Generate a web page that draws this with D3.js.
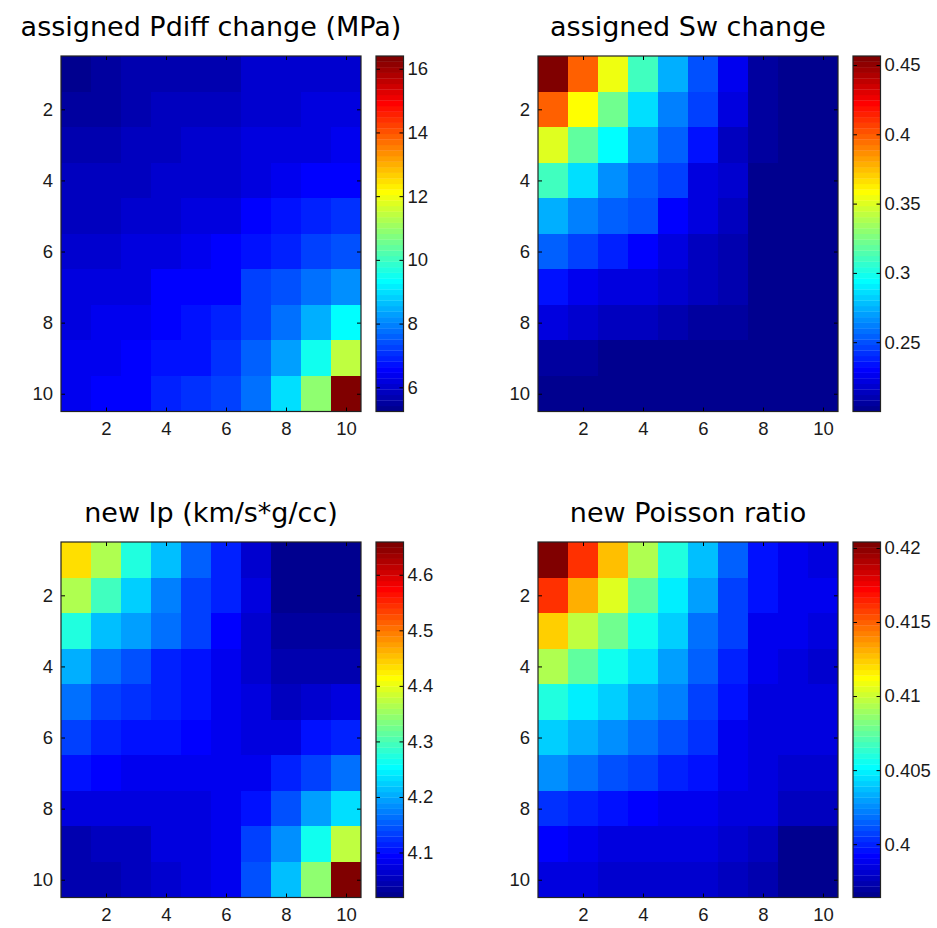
<!DOCTYPE html>
<html>
<head>
<meta charset="utf-8">
<script src="https://cdn.jsdelivr.net/npm/d3@7"></script>
<style>
  body { margin: 0; background: #fff; }
  svg { display: block; font-family: "DejaVu Sans", sans-serif; }
</style>
</head>
<body>
<div id="chart"></div>
<script>
// grid values, row 1 at top, column 1 at left
const pdiffChange = [
  [5.24, 5.42, 5.59, 5.59, 5.76, 5.76, 5.98, 6.03, 6.03, 6.09],
  [5.48, 5.48, 5.65, 5.81, 5.87, 5.92, 5.98, 6.09, 6.20, 6.25],
  [5.70, 5.70, 5.81, 5.87, 5.98, 6.03, 6.14, 6.20, 6.25, 6.36],
  [5.81, 5.81, 5.87, 5.98, 6.03, 6.09, 6.25, 6.36, 6.47, 6.58],
  [5.87, 5.92, 6.09, 6.09, 6.20, 6.25, 6.47, 6.64, 6.97, 7.08],
  [6.03, 6.09, 6.14, 6.20, 6.36, 6.47, 6.64, 6.85, 7.30, 7.40],
  [6.14, 6.20, 6.25, 6.47, 6.58, 6.58, 7.30, 7.40, 7.70, 8.03],
  [6.20, 6.36, 6.41, 6.52, 6.75, 6.90, 7.20, 7.80, 8.47, 9.26],
  [6.30, 6.41, 6.58, 6.64, 6.75, 7.08, 7.58, 8.37, 9.43, 11.50],
  [6.41, 6.47, 6.58, 6.90, 7.00, 7.20, 7.80, 8.95, 10.82, 16.40]
];

const swChange = [
  [0.4565, 0.399, 0.354, 0.309, 0.276, 0.249, 0.226, 0.208, 0.203, 0.203],
  [0.400, 0.357, 0.322, 0.287, 0.264, 0.245, 0.221, 0.208, 0.203, 0.203],
  [0.349, 0.318, 0.293, 0.272, 0.254, 0.235, 0.216, 0.208, 0.202, 0.202],
  [0.309, 0.287, 0.267, 0.256, 0.247, 0.224, 0.217, 0.202, 0.201, 0.201],
  [0.276, 0.264, 0.256, 0.251, 0.232, 0.224, 0.216, 0.201, 0.201, 0.201],
  [0.256, 0.247, 0.237, 0.230, 0.223, 0.216, 0.211, 0.201, 0.201, 0.201],
  [0.233, 0.228, 0.223, 0.221, 0.218, 0.214, 0.211, 0.202, 0.201, 0.201],
  [0.221, 0.217, 0.214, 0.214, 0.211, 0.208, 0.206, 0.202, 0.201, 0.201],
  [0.208, 0.208, 0.203, 0.202, 0.202, 0.202, 0.201, 0.201, 0.201, 0.201],
  [0.200, 0.200, 0.200, 0.200, 0.200, 0.200, 0.200, 0.200, 0.200, 0.200]
];

const newIp = [
  [4.435, 4.365, 4.278, 4.211, 4.153, 4.112, 4.064, 4.023, 4.021, 4.021],
  [4.365, 4.291, 4.227, 4.174, 4.137, 4.112, 4.070, 4.019, 4.020, 4.020],
  [4.278, 4.217, 4.192, 4.160, 4.130, 4.089, 4.064, 4.032, 4.030, 4.030],
  [4.205, 4.167, 4.147, 4.118, 4.099, 4.086, 4.064, 4.042, 4.040, 4.048],
  [4.160, 4.137, 4.125, 4.112, 4.099, 4.083, 4.070, 4.058, 4.067, 4.077],
  [4.130, 4.112, 4.106, 4.106, 4.089, 4.080, 4.077, 4.077, 4.106, 4.112],
  [4.099, 4.089, 4.080, 4.080, 4.086, 4.080, 4.086, 4.112, 4.137, 4.160],
  [4.070, 4.070, 4.070, 4.070, 4.077, 4.083, 4.106, 4.143, 4.192, 4.237],
  [4.045, 4.055, 4.058, 4.070, 4.077, 4.083, 4.130, 4.179, 4.259, 4.377],
  [4.045, 4.039, 4.055, 4.067, 4.077, 4.083, 4.147, 4.211, 4.339, 4.659]
];

const newPoisson = [
  [0.4204, 0.4162, 0.4127, 0.4094, 0.4061, 0.4036, 0.4014, 0.3996, 0.3987, 0.3985],
  [0.4162, 0.4129, 0.4103, 0.4074, 0.4050, 0.4028, 0.4006, 0.3996, 0.3987, 0.3987],
  [0.4122, 0.4098, 0.4078, 0.4054, 0.4040, 0.4020, 0.4006, 0.3990, 0.3987, 0.3985],
  [0.4094, 0.4074, 0.4054, 0.4043, 0.4028, 0.4014, 0.4001, 0.3987, 0.3986, 0.3981],
  [0.4061, 0.4050, 0.4040, 0.4030, 0.4022, 0.4009, 0.3994, 0.3985, 0.3983, 0.3983],
  [0.4040, 0.4033, 0.4024, 0.4019, 0.4012, 0.4005, 0.3990, 0.3985, 0.3983, 0.3983],
  [0.4024, 0.4019, 0.4012, 0.4008, 0.3999, 0.3997, 0.3987, 0.3983, 0.3981, 0.3981],
  [0.4004, 0.3999, 0.3994, 0.3992, 0.3990, 0.3989, 0.3985, 0.3983, 0.3977, 0.3976],
  [0.3993, 0.3989, 0.3985, 0.3985, 0.3985, 0.3983, 0.3981, 0.3978, 0.3966, 0.3966],
  [0.3985, 0.3984, 0.3981, 0.3981, 0.3981, 0.3980, 0.3977, 0.3975, 0.3966, 0.3964]
];

const titles = ["assigned Pdiff change (MPa)", "assigned Sw change", "new Ip (km/s*g/cc)", "new Poisson ratio"];
const gridTicks = [2, 4, 6, 8, 10];
const pdiffTicks = [6, 8, 10, 12, 14, 16];
const swTicks = [0.25, 0.3, 0.35, 0.4, 0.45];
const ipTicks = [4.1, 4.2, 4.3, 4.4, 4.5, 4.6];
const poissonTicks = [0.4, 0.405, 0.41, 0.415, 0.42];

const W = 937, H = 928;
const plotW = 300, plotH = 355.5, cbGap = 15, cbW = 27.5, tickLen = 4;

const panels = [
  { title: titles[0], data: pdiffChange, ticks: pdiffTicks, left: 61, top: 56 },
  { title: titles[1], data: swChange, ticks: swTicks, left: 538, top: 56 },
  { title: titles[2], data: newIp, ticks: ipTicks, left: 61, top: 542 },
  { title: titles[3], data: newPoisson, ticks: poissonTicks, left: 538, top: 542 }
];

// MATLAB style jet, 64 levels
function jet(t) {
  const c = v => Math.max(0, Math.min(1, v));
  const r = c(1.5 - Math.abs(4 * t - 3));
  const g = c(1.5 - Math.abs(4 * t - 2));
  const b = c(1.5 - Math.abs(4 * t - 1));
  return d3.rgb(r * 255, g * 255, b * 255).formatHex();
}
const nColors = 64;
const jet64 = d3.range(nColors).map(i => jet((i + 1) / nColors));

const svg = d3.select("#chart").append("svg")
  .attr("width", W)
  .attr("height", H);

panels.forEach(p => {
  const cells = [];
  p.data.forEach((row, r) => row.forEach((v, c) => cells.push({ row: r + 1, col: c + 1, v: v })));
  const ext = d3.extent(cells, d => d.v);

  const x = d3.scaleLinear().domain([0.5, 10.5]).range([0, plotW]);
  const y = d3.scaleLinear().domain([0.5, 10.5]).range([0, plotH]);
  const colorIdx = d3.scaleQuantize().domain(ext).range(d3.range(nColors));

  const g = svg.append("g")
    .attr("transform", `translate(${p.left},${p.top})`);

  g.selectAll(".cell")
    .data(cells)
    .enter().append("rect")
    .attr("class", "cell")
    .attr("x", d => x(d.col - 0.5))
    .attr("y", d => y(d.row - 0.5))
    .attr("width", d => x(d.col + 0.5) - x(d.col - 0.5) + 0.3)
    .attr("height", d => y(d.row + 0.5) - y(d.row - 0.5) + 0.3)
    .attr("fill", d => jet64[colorIdx(d.v)])
    .attr("shape-rendering", "crispEdges");

  // axes with inward ticks on all four sides
  const styleAxis = sel => {
    sel.select(".domain").remove();
    sel.selectAll(".tick line").attr("stroke", "#000");
    sel.selectAll(".tick text")
      .attr("fill", "#1a1a1a")
      .style("font-family", "'Liberation Sans', Arial, sans-serif")
      .style("font-size", "18.5px");
  };

  g.append("g")
    .attr("transform", `translate(0,${plotH})`)
    .call(d3.axisBottom(x).tickValues(gridTicks).tickSizeInner(-tickLen).tickSizeOuter(0).tickPadding(10))
    .call(styleAxis);
  g.append("g")
    .call(d3.axisLeft(y).tickValues(gridTicks).tickSizeInner(-tickLen).tickSizeOuter(0).tickPadding(8))
    .call(styleAxis);
  g.append("g")
    .call(d3.axisTop(x).tickValues(gridTicks).tickSizeInner(-tickLen).tickSizeOuter(0).tickFormat(""))
    .call(styleAxis);
  g.append("g")
    .attr("transform", `translate(${plotW},0)`)
    .call(d3.axisRight(y).tickValues(gridTicks).tickSizeInner(-tickLen).tickSizeOuter(0).tickFormat(""))
    .call(styleAxis);

  g.append("rect")
    .attr("x", 0).attr("y", 0)
    .attr("width", plotW).attr("height", plotH)
    .attr("fill", "none")
    .attr("stroke", "#222")
    .attr("stroke-width", 1.2);

  g.append("text")
    .attr("x", plotW / 2)
    .attr("y", -20)
    .attr("text-anchor", "middle")
    .style("font-size", "27px")
    .attr("fill", "#000")
    .text(p.title);

  // colorbar
  const cb = g.append("g")
    .attr("transform", `translate(${plotW + cbGap},0)`);
  const cy = d3.scaleLinear().domain(ext).range([plotH, 0]);
  const step = (ext[1] - ext[0]) / nColors;
  cb.selectAll(".band")
    .data(jet64)
    .enter().append("rect")
    .attr("class", "band")
    .attr("x", 0)
    .attr("width", cbW)
    .attr("y", (d, i) => cy(ext[0] + (i + 1) * step))
    .attr("height", (d, i) => cy(ext[0] + i * step) - cy(ext[0] + (i + 1) * step) + 0.3)
    .attr("fill", d => d);

  cb.append("g")
    .attr("transform", `translate(${cbW},0)`)
    .call(d3.axisRight(cy).tickValues(p.ticks).tickSizeInner(-tickLen).tickSizeOuter(0).tickPadding(4).tickFormat(d3.format("~g")))
    .call(styleAxis);
  cb.append("g")
    .call(d3.axisLeft(cy).tickValues(p.ticks).tickSizeInner(-tickLen).tickSizeOuter(0).tickFormat(""))
    .call(styleAxis);

  cb.append("rect")
    .attr("x", 0).attr("y", 0)
    .attr("width", cbW).attr("height", plotH)
    .attr("fill", "none")
    .attr("stroke", "#222")
    .attr("stroke-width", 1.2);
});
</script>
</body>
</html>
